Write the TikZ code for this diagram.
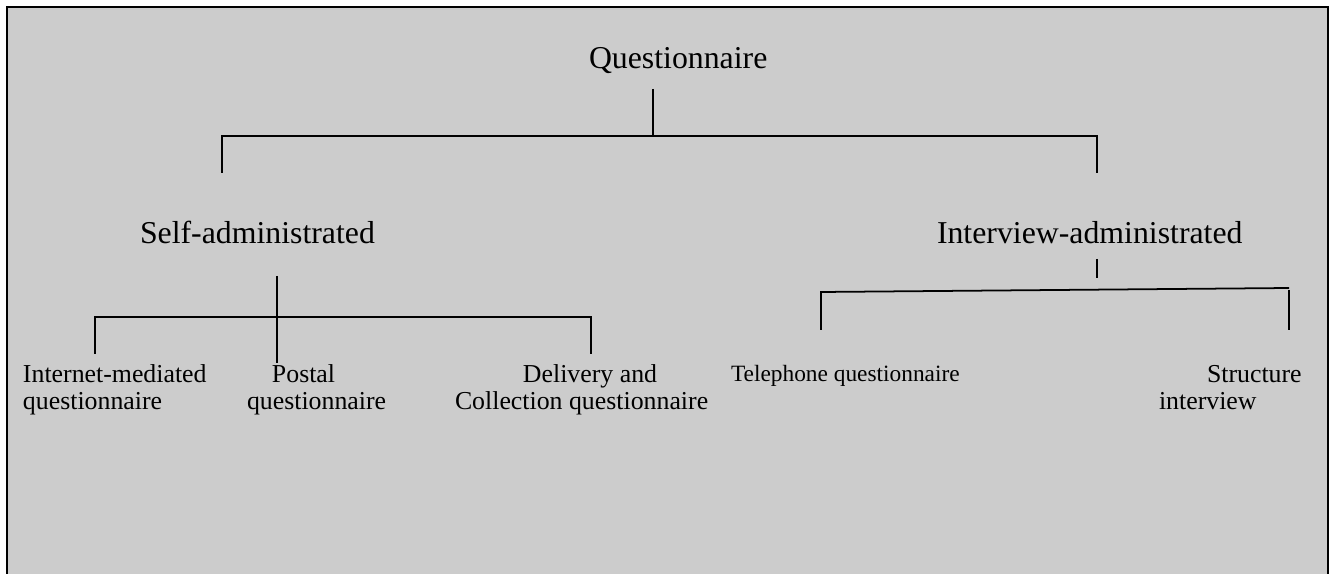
\documentclass[tikz,border=0pt]{standalone}
\usepackage{fontspec}
\setmainfont{Liberation Serif}
\definecolor{panelgray}{HTML}{CCCCCC}
\tikzset{
    every node/.style={inner sep=0pt,outer sep=0pt},
    topterm/.style={font=\fontsize{18.1}{20}\selectfont,anchor=base west},
    leafterm/.style={font=\fontsize{14.7}{15.9}\selectfont,anchor=base west,align=left},
    phoneterm/.style={font=\fontsize{13.3}{15}\selectfont,anchor=base west},
    treeline/.style={draw=black,line width=1pt},
    panel/.style={draw=black,fill=panelgray,line width=1.2pt}
}
\begin{document}
\begin{tikzpicture}[x=0.02cm,y=-0.02cm]
\useasboundingbox (0,0) rectangle (1333,574);
\filldraw[panel] (7,600) -- (7,7) -- (1328,7) -- (1328,600);

\node[topterm] (quest) at (589,69) {Questionnaire};
\node[topterm] (selfadm) at (140,244) {Self-administrated};
\node[topterm] (intadm) at (937,244) {Interview-administrated};

\node[leafterm] (internet) at (23,410) {Internet-mediated\\questionnaire};
\node[leafterm] (postal) at (247,410) {\hspace{0.5cm}Postal\\questionnaire};
\node[leafterm] (delivery) at (455,410) {\hspace{1.36cm}Delivery and\\Collection questionnaire};
\node[phoneterm] (phone) at (731,381) {Telephone questionnaire};
\node[leafterm] (structure) at (1159,410) {\hspace{0.96cm}Structure\\interview};

\coordinate (q-top) at (653,89);
\coordinate (q-mid) at (653,136);
\coordinate (q-left) at (222,136);
\coordinate (q-right) at (1097,136);
\coordinate (q-lend) at (222,173);
\coordinate (q-rend) at (1097,173);
\draw[treeline] (q-top) -- (q-mid);
\draw[treeline] (q-lend) -- (q-left) -- (q-right) -- (q-rend);

\coordinate (s-top) at (277,276);
\coordinate (s-end) at (277,363);
\coordinate (s-left) at (95,317);
\coordinate (s-right) at (591,317);
\coordinate (s-lend) at (95,354);
\coordinate (s-rend) at (591,354);
\draw[treeline] (s-top) -- (s-end);
\draw[treeline] (s-lend) -- (s-left) -- (s-right) -- (s-rend);

\coordinate (i-top) at (1097,259);
\coordinate (i-end) at (1097,278);
\coordinate (i-left) at (821,292);
\coordinate (i-right) at (1289,288);
\coordinate (i-rtop) at (1289,290);
\coordinate (i-lend) at (821,330);
\coordinate (i-rend) at (1289,330);
\draw[treeline] (i-top) -- (i-end);
\draw[treeline] (i-lend) -- (i-left) -- (i-right);
\draw[treeline] (i-rtop) -- (i-rend);
\end{tikzpicture}
\end{document}
